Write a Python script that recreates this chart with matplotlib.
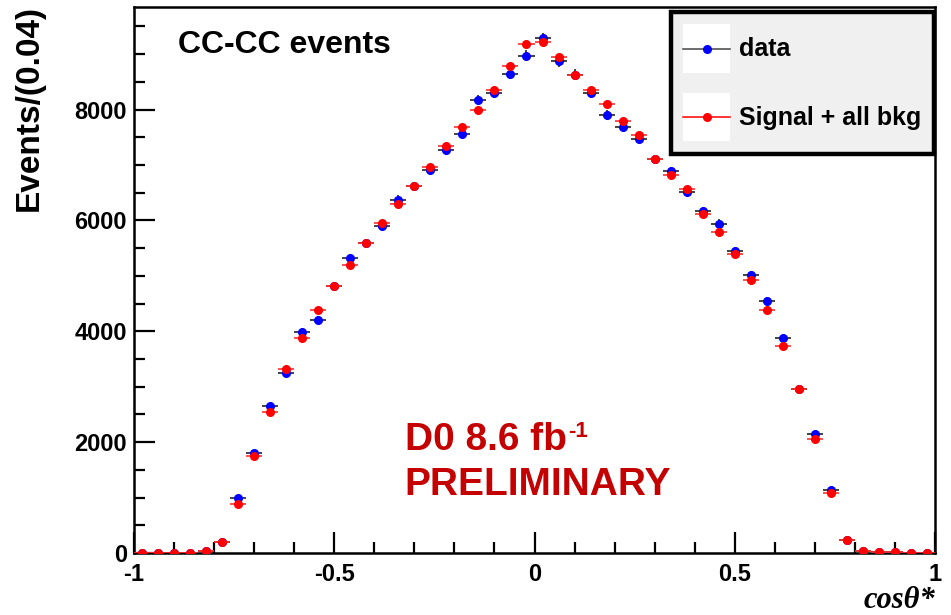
import numpy as np
import matplotlib
matplotlib.use("Agg")
import matplotlib.pyplot as plt
from matplotlib.legend_handler import HandlerBase
from matplotlib.patches import Rectangle
from matplotlib.lines import Line2D
from matplotlib.ticker import MultipleLocator, FixedLocator

plt.rcParams['font.family'] = ['Liberation Sans', 'DejaVu Sans']
plt.rcParams['axes.unicode_minus'] = False

# ---- data ----
bin_centers = [round(-0.98 + 0.04 * i, 2) for i in range(50)]
data_counts = [0, 0, 0, 0, 30, 190, 985, 1808, 2656, 3251,
               3994, 4204, 4811, 5319, 5585, 5907, 6372, 6619, 6904, 7270,
               7567, 8173, 8300, 8638, 8972, 9282, 8867, 8632, 8291, 7907,
               7678, 7461, 7102, 6885, 6520, 6161, 5944, 5443, 5015, 4545,
               3870, 2966, 2149, 1139, 229, 40, 20, 10, 5, 0]
mc_counts = [0, 0, 0, 0, 30, 190, 880, 1746, 2551, 3313,
             3870, 4390, 4811, 5201, 5585, 5957, 6297, 6619, 6960, 7340,
             7678, 8000, 8360, 8786, 9176, 9226, 8941, 8632, 8359, 8093,
             7796, 7548, 7102, 6811, 6570, 6124, 5789, 5399, 4923, 4390,
             3727, 2966, 2056, 1084, 229, 40, 20, 10, 5, 0]
bin_half_width = 0.02
x_ticks = [-1, -0.5, 0, 0.5, 1]
x_ticklabels = ["-1", "-0.5", "0", "0.5", "1"]
y_ticks = [0, 2000, 4000, 6000, 8000]

x = np.array(bin_centers)
yd = np.array(data_counts, dtype=float)
ym = np.array(mc_counts, dtype=float)

fig = plt.figure(figsize=(9.51, 6.15), dpi=100)
ax = fig.add_axes([134 / 951, 62 / 615, 801 / 951, 546 / 615])

ax.errorbar(x, yd, xerr=bin_half_width, yerr=np.sqrt(yd), fmt='o', color='#0000ff',
            ecolor='#222222', elinewidth=1.2, markersize=5.5, capsize=0, zorder=3)
ax.errorbar(x, ym, xerr=bin_half_width, fmt='o', color='#ff0000',
            ecolor='#ff3030', elinewidth=1.2, markersize=5.5, capsize=0, zorder=4)

ax.set_xlim(-1, 1)
ax.set_ylim(0, 9850)
ax.xaxis.set_major_locator(FixedLocator(x_ticks))
ax.set_xticklabels(x_ticklabels)
ax.xaxis.set_minor_locator(MultipleLocator(0.1))
ax.yaxis.set_major_locator(FixedLocator(y_ticks))
ax.yaxis.set_minor_locator(MultipleLocator(500))
ax.tick_params(which='both', direction='in', top=False, right=False, width=1.6)
ax.tick_params(which='major', length=15)
ax.tick_params(which='minor', length=8)
ax.tick_params(axis='y', pad=5, labelsize=17)
ax.tick_params(axis='x', pad=7, labelsize=17)
for lab in ax.get_xticklabels() + ax.get_yticklabels():
    lab.set_fontweight('bold')
for s in ax.spines.values():
    s.set_linewidth(1.8)

ax.set_ylabel("Events/(0.04)", fontsize=24, fontweight='bold', loc='top')
ax.yaxis.set_label_coords(-0.112, 1.004)
ax.set_xlabel("cosθ*", fontsize=22, fontweight='bold', fontstyle='italic',
              family=['Liberation Serif', 'DejaVu Serif'], loc='right')
ax.xaxis.set_label_coords(1.0, -0.06)

ax.text(0.055, 0.930, "CC-CC events", transform=ax.transAxes, fontsize=23,
        fontweight='bold', va='center', ha='left')
t_d0 = ax.text(0.338, 0.207, "D0 8.6 fb", transform=ax.transAxes, fontsize=28,
               fontweight='bold', va='center', ha='left', color='#c40000')
ax.annotate("-1", xy=(1.0, 1.0), xycoords=t_d0, xytext=(1, 1), textcoords='offset points',
            fontsize=16, fontweight='bold', va='top', ha='left', color='#c40000')
ax.text(0.338, 0.125, "PRELIMINARY", transform=ax.transAxes, fontsize=28,
        fontweight='bold', va='center', ha='left', color='#c40000')


class SwatchHandler(HandlerBase):
    def __init__(self, line_color, marker_color):
        super().__init__()
        self.line_color = line_color
        self.marker_color = marker_color

    def create_artists(self, legend, orig_handle, xdescent, ydescent, width, height,
                       fontsize, trans):
        rect = Rectangle((-xdescent, -ydescent), width, height, facecolor='white',
                         edgecolor='none', transform=trans)
        ymid = height / 2.0 - ydescent
        ln = Line2D([-xdescent, width - xdescent], [ymid, ymid], color=self.line_color,
                    linewidth=1.1, transform=trans)
        mk = Line2D([width / 2.0 - xdescent], [ymid], marker='o',
                    markersize=5.5, color=self.marker_color, linestyle='none',
                    transform=trans)
        return [rect, ln, mk]


h_data = Line2D([], [], color='blue', marker='o')
h_mc = Line2D([], [], color='red', marker='o')
leg = ax.legend([h_data, h_mc], ["data", "Signal + all bkg"],
                handler_map={h_data: SwatchHandler('#444444', '#0000ff'),
                             h_mc: SwatchHandler('#ff0000', '#ff0000')},
                loc='upper right', bbox_to_anchor=(0.9985, 0.991), borderaxespad=0,
                fancybox=False, shadow=False, framealpha=1, facecolor='#f0f0f0',
                edgecolor='black', prop={'weight': 'bold', 'size': 18},
                handlelength=1.88, handleheight=2.6, labelspacing=0.8,
                handletextpad=0.36, borderpad=0.5)
leg.get_frame().set_linewidth(3.2)
leg.set_zorder(10)

fig.savefig("out.png", dpi=100)
